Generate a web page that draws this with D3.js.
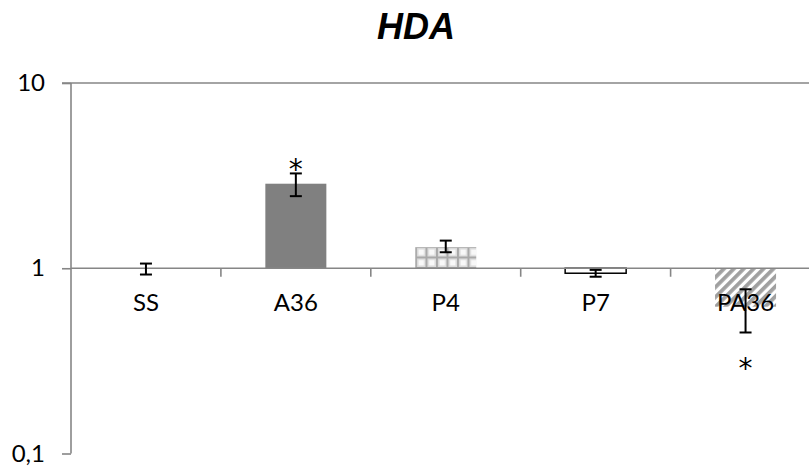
<!DOCTYPE html>
<html>
<head>
<meta charset="utf-8">
<script src="https://cdnjs.cloudflare.com/ajax/libs/d3/7.8.5/d3.min.js"></script>
<style>
  body { margin: 0; background: #fff; }
  svg { display: block; }
</style>
</head>
<body>
<script>
// chart data
var categories = ["SS", "A36", "P4", "P7", "PA36"];
var values     = [1.0, 2.86, 1.30, 0.94, 0.62];
var errHigh    = [1.06, 3.25, 1.41, 0.98, 0.77];
var errLow     = [0.925, 2.45, 1.22, 0.90, 0.45];
var starAt     = [null, 3.65, null, null, 0.305];   // significance marks
var yTicks     = [0.1, 1, 10];
var yTickText  = ["0,1", "1", "10"];

var width = 809, height = 468;
var left = 71, step = 149.9;
var plotTop = 83, plotBottom = 453.5;

var svg = d3.select("body").append("svg")
    .attr("width", width)
    .attr("height", height);

var defs = svg.append("defs");

// small grid fill (P4)
var grid = defs.append("pattern")
    .attr("id", "grid")
    .attr("patternUnits", "userSpaceOnUse")
    .attr("x", 415).attr("y", 246)
    .attr("width", 10.5).attr("height", 10.5);
grid.append("rect").attr("width", 10.5).attr("height", 10.5).attr("fill", "#a9a9a9");
grid.append("rect").attr("x", 2).attr("y", 2).attr("width", 8.5).attr("height", 8.5).attr("fill", "#dcdcdc");
grid.append("rect").attr("x", 3.5).attr("y", 3.5).attr("width", 5.5).attr("height", 5.5).attr("fill", "#f8f8f8");

// diagonal stripes (PA36)
var stripes = defs.append("pattern")
    .attr("id", "stripes")
    .attr("patternUnits", "userSpaceOnUse")
    .attr("width", 7).attr("height", 7)
    .attr("patternTransform", "rotate(45)");
stripes.append("rect").attr("width", 7).attr("height", 7).attr("fill", "#ffffff");
stripes.append("rect").attr("width", 3.8).attr("height", 7).attr("fill", "#a0a0a0");

var fills = ["#808080", "#808080", "url(#grid)", "#ffffff", "url(#stripes)"];
var strokes = ["none", "none", "none", "#000", "none"];

var x = d3.scaleBand()
    .domain(categories)
    .range([left, left + step * categories.length])
    .padding(0);

var y = d3.scaleLog()
    .domain([0.1, 10])
    .range([plotBottom, plotTop]);

var barW = step * 0.407;
var axisColor = "#868686";

// title
svg.append("text")
    .attr("x", 416).attr("y", 39)
    .attr("text-anchor", "middle")
    .style("font-family", "Liberation Sans, Arial, sans-serif")
    .style("font-weight", "bold")
    .style("font-style", "italic")
    .style("font-size", "36px")
    .text("HDA");

// bars
var data = categories.map(function(c, i) {
    return {cat: c, v: values[i], hi: errHigh[i], lo: errLow[i], star: starAt[i], i: i};
});

svg.append("g").selectAll("rect")
    .data(data)
    .enter()
    .append("rect")
    .attr("x", function(d) { return x(d.cat) + step / 2 - barW / 2; })
    .attr("y", function(d) { return Math.min(y(d.v), y(1)); })
    .attr("width", barW)
    .attr("height", function(d) { return Math.abs(y(d.v) - y(1)); })
    .attr("fill", function(d) { return fills[d.i]; })
    .attr("stroke", function(d) { return strokes[d.i]; })
    .attr("stroke-width", 1.5);

// top line at 10
svg.append("line")
    .attr("x1", left - 9).attr("x2", left + step * categories.length)
    .attr("y1", y(10)).attr("y2", y(10))
    .attr("stroke", axisColor).attr("stroke-width", 1.6);

// y axis
var yAxis = d3.axisLeft(y)
    .tickValues(yTicks)
    .tickFormat(function(d, i) { return yTickText[i]; })
    .tickSize(9)
    .tickPadding(17);

var gy = svg.append("g")
    .attr("transform", "translate(" + left + ",0)")
    .call(yAxis);
gy.select(".domain").attr("stroke", axisColor).attr("stroke-width", 1.6)
    .attr("d", "M0," + plotTop + "V" + plotBottom);
gy.selectAll(".tick line").attr("stroke", axisColor).attr("stroke-width", 1.6);
gy.selectAll(".tick text")
    .attr("fill", "#000")
    .style("font-family", "Lato, Open Sans, sans-serif")
    .style("font-size", "24px");

// category axis at 1
svg.append("line")
    .attr("x1", left).attr("x2", left + step * categories.length)
    .attr("y1", y(1)).attr("y2", y(1))
    .attr("stroke", axisColor).attr("stroke-width", 1.6);

svg.append("g").selectAll("line")
    .data(categories.slice(1).concat(["end"]))
    .enter()
    .append("line")
    .attr("x1", function(d, i) { return left + step * (i + 1); })
    .attr("x2", function(d, i) { return left + step * (i + 1); })
    .attr("y1", y(1)).attr("y2", y(1) + 8.5)
    .attr("stroke", axisColor).attr("stroke-width", 1.6);

// error bars
var eb = svg.append("g").selectAll("g")
    .data(data)
    .enter()
    .append("g")
    .attr("stroke", "#000")
    .attr("stroke-width", 2);

eb.append("line")
    .attr("x1", function(d) { return x(d.cat) + step / 2; })
    .attr("x2", function(d) { return x(d.cat) + step / 2; })
    .attr("y1", function(d) { return y(d.hi); })
    .attr("y2", function(d) { return y(d.lo); });
eb.append("line")
    .attr("x1", function(d) { return x(d.cat) + step / 2 - 6; })
    .attr("x2", function(d) { return x(d.cat) + step / 2 + 6; })
    .attr("y1", function(d) { return y(d.hi); })
    .attr("y2", function(d) { return y(d.hi); });
eb.append("line")
    .attr("x1", function(d) { return x(d.cat) + step / 2 - 6; })
    .attr("x2", function(d) { return x(d.cat) + step / 2 + 6; })
    .attr("y1", function(d) { return y(d.lo); })
    .attr("y2", function(d) { return y(d.lo); });

// category labels
svg.append("g").selectAll("text")
    .data(categories)
    .enter()
    .append("text")
    .attr("x", function(d) { return x(d) + step / 2; })
    .attr("y", 311)
    .attr("text-anchor", "middle")
    .style("font-family", "Lato, Open Sans, sans-serif")
    .style("font-size", "24px")
    .text(function(d) { return d; });

// asterisks
svg.append("g").selectAll("text")
    .data(data.filter(function(d) { return d.star !== null; }))
    .enter()
    .append("text")
    .attr("x", function(d) { return x(d.cat) + step / 2; })
    .attr("y", function(d) { return y(d.star); })
    .attr("dy", "0.52em")
    .attr("text-anchor", "middle")
    .style("font-family", "DejaVu Sans, sans-serif")
    .style("font-size", "28px")
    .text("*");
</script>
</body>
</html>
